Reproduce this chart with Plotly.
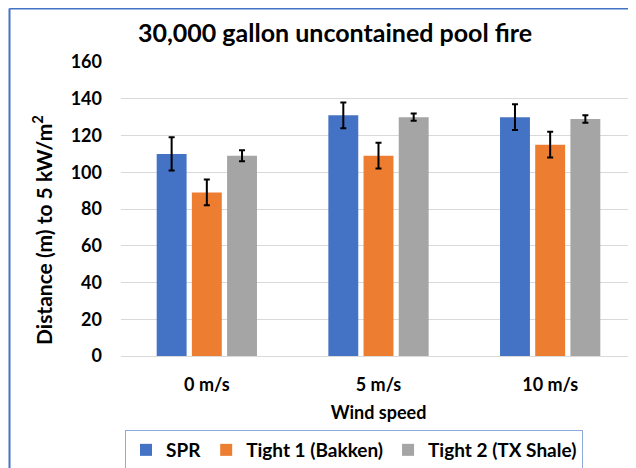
import plotly.graph_objects as go

# Data
wind_speeds = ["0 m/s", "5 m/s", "10 m/s"]
spr = [110, 131, 130]
spr_err = [9, 7, 7]
bakken = [89, 109, 115]
bakken_err = [7, 7, 7]
tx_shale = [109, 130, 129]
tx_shale_err = [3, 2, 2]
y_ticks = [0, 20, 40, 60, 80, 100, 120, 140, 160]

font_family = "Lato, 'Open Sans', sans-serif"

# the page body adds an 8px offset, so the figure is a bit smaller than the window
W, H = 628, 460
ml, mr, mt, mb = 113, 0, 54, 112
pw, ph = W - ml - mr, H - mt - mb

fig = go.Figure()

series = [
    ("SPR", spr, spr_err, "#4472C4"),
    ("Tight 1 (Bakken)", bakken, bakken_err, "#ED7D31"),
    ("Tight 2 (TX Shale)", tx_shale, tx_shale_err, "#A5A5A5"),
]
for name, vals, errs, color in series:
    fig.add_trace(go.Bar(
        x=wind_speeds, y=vals, name=name,
        marker=dict(color=color, line=dict(width=0)),
        error_y=dict(type="data", array=errs, color="black", thickness=2, width=3),
    ))

fig.update_layout(
    width=W, height=H,
    margin=dict(l=ml, r=mr, t=mt, b=mb, autoexpand=False),
    paper_bgcolor="white", plot_bgcolor="white",
    font=dict(family=font_family, color="black", weight="bold"),
    barmode="group", bargap=0.385, bargroupgap=0.15,
    title=dict(text="30,000 gallon uncontained pool fire",
               x=327 / W, xref="container", xanchor="center",
               y=1 - 25 / H, yref="container", yanchor="middle",
               font=dict(size=25, color="black", weight="bold")),
    xaxis=dict(range=[-0.5, 2.5], showgrid=False, showline=False, ticks="",
               tickfont=dict(size=18, color="black", weight="bold"),
               ticklabelstandoff=16, automargin=False,
               title=dict(text="Wind speed", font=dict(size=18, weight="bold"), standoff=12)),
    yaxis=dict(range=[0, 160], tickvals=y_ticks, showgrid=True, gridcolor="#D9D9D9",
               gridwidth=1, zeroline=True, zerolinecolor="#D9D9D9", zerolinewidth=1,
               showline=False, ticks="", automargin=False,
               tickfont=dict(size=18, color="black", weight="bold"),
               ticklabelstandoff=18),
    legend=dict(orientation="h", x=(346 - ml) / pw, xanchor="center",
                y=-(422 - (H - mb)) / ph, yanchor="top",
                bordercolor="#8FAADC", borderwidth=1,
                font=dict(size=19, color="black", weight="bold"),
                itemwidth=30, traceorder="normal"),
)

# rotated y axis title, placed like the original
fig.add_annotation(text="Distance (m) to 5 kW/m<sup>2</sup>", textangle=-90,
                   xref="paper", yref="paper", x=(34 - ml) / pw, y=(H - mb - 222) / ph,
                   xanchor="center", yanchor="middle", showarrow=False,
                   font=dict(size=21, color="black", weight="bold"))

# Blue outer frame (only left and top edges visible in the crop)
fx0 = (1.5 - ml) / pw
fy1 = (H - mb - 0.5) / ph
fig.add_shape(type="line", xref="paper", yref="paper",
              x0=fx0, x1=fx0, y0=-mb / ph - 0.1, y1=fy1,
              line=dict(color="#4472C4", width=2))
fig.add_shape(type="line", xref="paper", yref="paper",
              x0=fx0, x1=1.1, y0=fy1, y1=fy1,
              line=dict(color="#4472C4", width=2))

fig.write_html("out.html")
